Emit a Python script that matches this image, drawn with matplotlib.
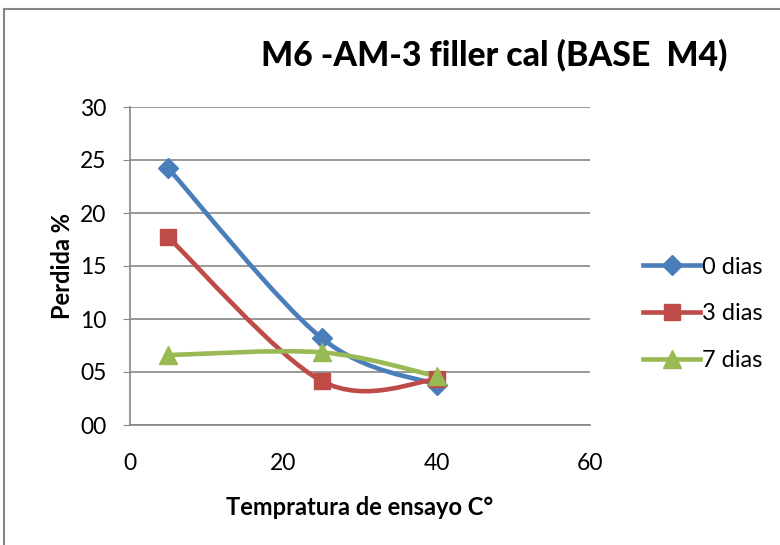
import matplotlib.pyplot as plt
import numpy as np
from matplotlib.path import Path
from matplotlib.patches import PathPatch
from matplotlib.lines import Line2D

plt.rcParams['font.family'] = ['Lato', 'DejaVu Sans']

temps = [5, 25, 40]
dias_0 = [24.2, 8.2, 3.8]
dias_3 = [17.7, 4.15, 4.3]
dias_7 = [6.6, 6.85, 4.6]

labels = ['0 dias', '3 dias', '7 dias']
colors = ['#4A7EBB', '#BE4B48', '#98B954']
markers = ['D', 's', '^']
msizes = [10, 12, 13]


def smooth_path(x, y):
    # Catmull-Rom style bezier, like Excel "smoothed line"
    pts = np.column_stack([x, y]).astype(float)
    n = len(pts)
    verts = [pts[0]]
    codes = [Path.MOVETO]
    for i in range(n - 1):
        p0 = pts[max(i - 1, 0)]
        p1 = pts[i]
        p2 = pts[i + 1]
        p3 = pts[min(i + 2, n - 1)]
        c1 = p1 + (p2 - p0) / 6
        c2 = p2 - (p3 - p1) / 6
        verts += [c1, c2, p2]
        codes += [Path.CURVE4] * 3
    return Path(verts, codes)


fig = plt.figure(figsize=(7.8, 5.45), dpi=100)
ax = fig.add_axes([130 / 780, 1 - 425 / 545, 460 / 780, 318 / 545])

for ys, lab, c, m, ms in zip([dias_0, dias_3, dias_7], labels, colors, markers, msizes):
    ax.add_patch(PathPatch(smooth_path(temps, ys), facecolor='none',
                           edgecolor=c, lw=3.3, zorder=3))
    ax.plot(temps, ys, linestyle='none', marker=m, markersize=ms,
            color=c, zorder=4)

ax.set_xlim(0, 60)
ax.set_ylim(0, 30)
ax.set_xticks([0, 20, 40, 60])
ax.set_yticks([0, 5, 10, 15, 20, 25, 30])
ax.set_yticklabels(['00', '05', '10', '15', '20', '25', '30'])
ax.tick_params(axis='both', labelsize=16.5, colors='#000000')
ax.tick_params(axis='x', length=0, pad=20)
ax.tick_params(axis='y', length=5, color='#868686', pad=12)
ax.grid(axis='y', color='#868686', lw=1.2)
ax.set_axisbelow(True)
for s in ['top', 'right']:
    ax.spines[s].set_visible(False)
for s in ['left', 'bottom']:
    ax.spines[s].set_color('#868686')
    ax.spines[s].set_linewidth(1.2)

ax.set_xlabel('Tempratura de ensayo C°', fontsize=17, fontweight='bold', labelpad=16)
ax.set_ylabel('Perdida %', fontsize=17, fontweight='bold', labelpad=4)

fig.text(494 / 780, 1 - 55 / 545, 'M6 -AM-3 filler cal (BASE  M4)', fontsize=24.3,
         fontweight='black', ha='center', va='center')

handles = [Line2D([], [], color=c, lw=3.3, marker=m, markersize=ms)
           for c, m, ms in zip(colors, markers, msizes)]
fig.legend(handles, labels, loc='center left', bbox_to_anchor=(622 / 780, 1 - 314 / 545),
           frameon=False, fontsize=17, handlelength=2.4, handletextpad=0.1,
           labelspacing=1.1)

# chart border
fig.add_artist(Line2D([4 / 780, 1], [1 - 9 / 545, 1 - 9 / 545], color='#868686', lw=1.5))
fig.add_artist(Line2D([4 / 780, 4 / 780], [0, 1 - 9 / 545], color='#868686', lw=1.5))

fig.savefig('out.png', dpi=100)
